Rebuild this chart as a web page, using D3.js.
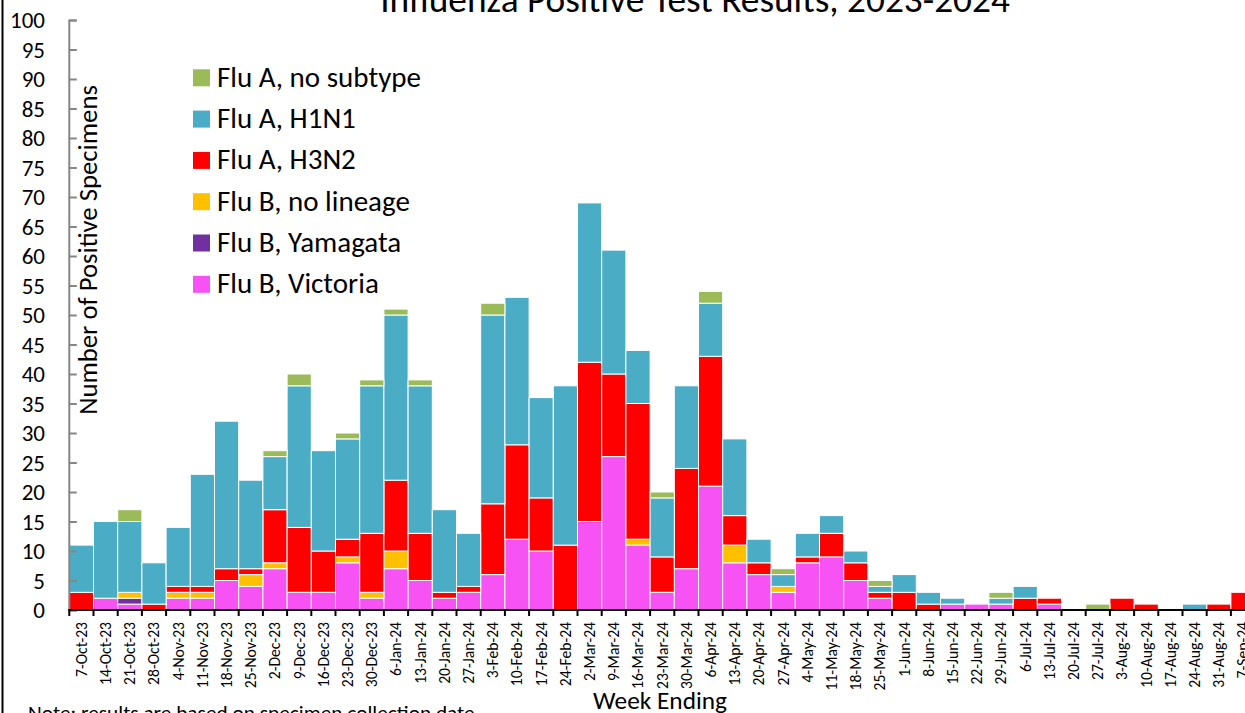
<!DOCTYPE html>
<html>
<head>
<meta charset="utf-8">
<script src="https://cdn.jsdelivr.net/npm/d3@7"></script>
<style>
  html, body { margin: 0; padding: 0; background: #fff; }
  svg { display: block; font-family: Carlito, Calibri, "Open Sans", sans-serif; }
</style>
</head>
<body>
<div id="chart"></div>
<script>
const weeks = [
  '7-Oct-23','14-Oct-23','21-Oct-23','28-Oct-23','4-Nov-23','11-Nov-23','18-Nov-23','25-Nov-23',
  '2-Dec-23','9-Dec-23','16-Dec-23','23-Dec-23','30-Dec-23','6-Jan-24','13-Jan-24','20-Jan-24',
  '27-Jan-24','3-Feb-24','10-Feb-24','17-Feb-24','24-Feb-24','2-Mar-24','9-Mar-24','16-Mar-24',
  '23-Mar-24','30-Mar-24','6-Apr-24','13-Apr-24','20-Apr-24','27-Apr-24','4-May-24','11-May-24',
  '18-May-24','25-May-24','1-Jun-24','8-Jun-24','15-Jun-24','22-Jun-24','29-Jun-24','6-Jul-24',
  '13-Jul-24','20-Jul-24','27-Jul-24','3-Aug-24','10-Aug-24','17-Aug-24','24-Aug-24','31-Aug-24','7-Sep-24'
];

// stacked bottom -> top
const bVictoria = [0,2,1,0,2,2,5,4, 7,3,3,8,2,7,5,2, 3,6,12,10,0,15,26,11, 3,7,21,8,6,3,8,9, 5,2,0,0,1,1,1,0, 1,0,0,0,0,0,0,0,0];
const bYamagata = [0,0,1,0,0,0,0,0, 0,0,0,0,0,0,0,0, 0,0,0,0,0,0,0,0, 0,0,0,0,0,0,0,0, 0,0,0,0,0,0,0,0, 0,0,0,0,0,0,0,0,0];
const bNoLineage = [0,0,1,0,1,1,0,2, 1,0,0,1,1,3,0,0, 0,0,0,0,0,0,0,1, 0,0,0,3,0,1,0,0, 0,0,0,0,0,0,0,0, 0,0,0,0,0,0,0,0,0];
const aH3N2 = [3,0,0,1,1,1,2,1, 9,11,7,3,10,12,8,1, 1,12,16,9,11,27,14,23, 6,17,22,5,2,0,1,4, 3,1,3,1,0,0,0,2, 1,0,0,2,1,0,0,1,3];
const aH1N1 = [8,13,12,7,10,19,25,15, 9,24,17,17,25,28,25,14, 9,32,25,17,27,27,21,9, 10,14,9,13,4,2,4,3, 2,1,3,2,1,0,1,2, 0,0,0,0,0,0,1,0,0];
const aNoSubtype = [0,0,2,0,0,0,0,0, 1,2,0,1,1,1,1,0, 0,2,0,0,0,0,0,0, 1,0,2,0,0,1,0,0, 0,1,0,0,0,0,1,0, 0,0,1,0,0,0,0,0,0];

const yTicks = d3.range(0, 101, 5);

const series = [
  { key: 'bVictoria', name: 'Flu B, Victoria', color: '#f652f4', values: bVictoria },
  { key: 'bYamagata', name: 'Flu B, Yamagata', color: '#7030a0', values: bYamagata },
  { key: 'bNoLineage', name: 'Flu B, no lineage', color: '#ffc000', values: bNoLineage },
  { key: 'aH3N2', name: 'Flu A, H3N2', color: '#ff0000', values: aH3N2 },
  { key: 'aH1N1', name: 'Flu A, H1N1', color: '#4bacc6', values: aH1N1 },
  { key: 'aNoSubtype', name: 'Flu A, no subtype', color: '#9bbb59', values: aNoSubtype }
];

const width = 1245, height = 713;
const margin = { top: 20, left: 69.3, bottom: 103 };
const step = 24.2;

const svg = d3.select('#chart').append('svg').attr('width', width).attr('height', height);

// scale a text's font so one sample string spans the width seen in the original
function fitSize(sample, base, target) {
  const t = svg.append('text').attr('font-size', base).text(sample);
  const w = t.node().getComputedTextLength();
  t.remove();
  return base * target / w;
}

// outer frame edge on the left
svg.append('line').attr('x1', 2.5).attr('x2', 2.5).attr('y1', 0).attr('y2', height)
  .attr('stroke', '#000').attr('stroke-width', 2);

const rows = weeks.map((w, i) => {
  const r = { week: w };
  series.forEach(s => r[s.key] = s.values[i]);
  return r;
});
const stacked = d3.stack().keys(series.map(s => s.key))(rows);

const x = d3.scaleBand().domain(weeks).range([margin.left, margin.left + step * weeks.length]).padding(0);
const y = d3.scaleLinear().domain([0, 100]).range([height - margin.bottom, margin.top]);

const g = svg.append('g');
g.selectAll('g.layer').data(stacked).join('g')
  .attr('class', 'layer')
  .attr('fill', (d, i) => series[i].color)
  .selectAll('rect').data(d => d.filter(p => p[1] > p[0])).join('rect')
  .attr('x', d => x(d.data.week))
  .attr('width', x.bandwidth())
  .attr('y', d => y(d[1]))
  .attr('height', d => y(d[0]) - y(d[1]))
  .attr('stroke', '#fff').attr('stroke-width', 1);

// y axis: grey, ticks pointing inward
const yAxis = svg.append('g').attr('transform', `translate(${margin.left - 0.5},0)`)
  .call(d3.axisRight(y).tickValues(yTicks).tickSize(8).tickFormat(''));
yAxis.select('.domain').attr('stroke', '#868686').attr('stroke-width', 2);
yAxis.selectAll('.tick line').attr('stroke', '#868686').attr('stroke-width', 2);
const yFont = fitSize('100', 20, 35);
svg.append('g').selectAll('text').data(yTicks).join('text')
  .attr('x', 45).attr('y', d => y(d)).attr('dy', '0.36em')
  .attr('text-anchor', 'end').attr('font-size', yFont).text(d => d);

// x axis: black line, ticks at band edges
const xBase = y(0);
svg.append('line').attr('x1', margin.left - 1).attr('x2', width).attr('y1', xBase).attr('y2', xBase)
  .attr('stroke', '#000').attr('stroke-width', 2);
svg.append('g').selectAll('line').data(weeks).join('line')
  .attr('x1', d => x(d)).attr('x2', d => x(d))
  .attr('y1', xBase).attr('y2', xBase + 6)
  .attr('stroke', '#000').attr('stroke-width', 2);
const xFont = fitSize('7-Oct-23', 15, 55);
svg.append('g').selectAll('text').data(weeks).join('text')
  .attr('transform', d => `translate(${x(d) + x.bandwidth() / 2 + xFont * 0.35},${xBase + 12}) rotate(-90)`)
  .attr('text-anchor', 'end').attr('font-size', xFont).text(d => d);

// titles
const title = 'Influenza Positive Test Results, 2023-2024';
svg.append('text').attr('x', 695).attr('y', 12).attr('text-anchor', 'middle')
  .attr('font-size', fitSize(title, 30, 630)).text(title);
const yTitle = 'Number of Positive Specimens';
svg.append('text').attr('transform', 'translate(97,250) rotate(-90)').attr('text-anchor', 'middle')
  .attr('font-size', fitSize(yTitle, 24, 330)).text(yTitle);
svg.append('text').attr('x', 660).attr('y', 709).attr('text-anchor', 'middle')
  .attr('font-size', fitSize('Week Ending', 24, 134)).text('Week Ending');
const note = 'Note: results are based on specimen collection date';
svg.append('text').attr('x', 28).attr('y', 720).attr('font-size', fitSize(note, 19, 447))
  .text(note);

// legend, top entry = top of stack
const legFont = fitSize('Flu A, no subtype', 24, 204);
const legend = svg.append('g').selectAll('g').data(series.slice().reverse()).join('g')
  .attr('transform', (d, i) => `translate(193,${69.3 + i * 41.3})`);
legend.append('rect').attr('width', 17).attr('height', 17).attr('fill', d => d.color);
legend.append('text').attr('x', 24).attr('y', 17.5).attr('font-size', legFont).text(d => d.name);
</script>
</body>
</html>
